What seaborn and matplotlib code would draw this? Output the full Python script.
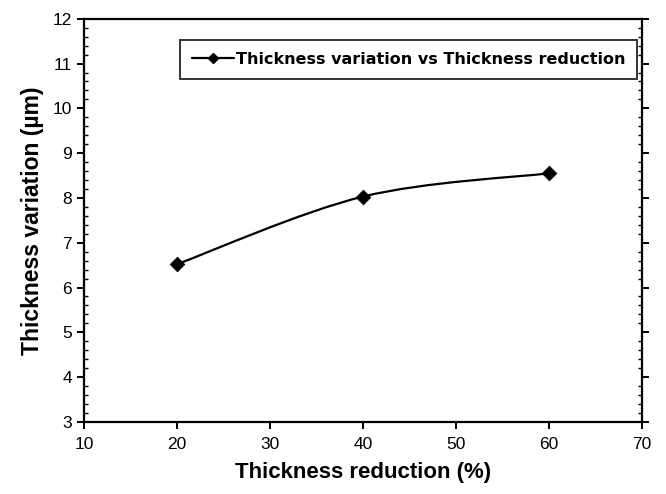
import numpy as np
import seaborn as sns
import matplotlib.pyplot as plt
from matplotlib.path import Path
from matplotlib.patches import PathPatch
from matplotlib.lines import Line2D
from matplotlib.ticker import MultipleLocator

# data
reduction = [20, 40, 60]          # thickness reduction (%)
variation = [6.52, 8.03, 8.55]    # thickness variation (um)
series_label = "Thickness variation vs Thickness reduction"

sns.set_style("white", {"text.color": "black", "axes.labelcolor": "black",
                        "xtick.color": "black", "ytick.color": "black"})
plt.rcParams['font.family'] = ['Liberation Sans', 'DejaVu Sans']

fig = plt.figure(figsize=(6.66, 4.94), dpi=100)
ax = fig.add_axes([0.126, 0.146, 0.838, 0.816])


# Excel-like smoothed line: cubic Bezier segments through the points
def smooth_path(xs, ys, t=1 / 6):
    xs = np.asarray(xs, float)
    ys = np.asarray(ys, float)
    n = len(xs)
    verts = [(xs[0], ys[0])]
    codes = [Path.MOVETO]
    for i in range(n - 1):
        x0, y0 = (xs[i - 1], ys[i - 1]) if i > 0 else (xs[i], ys[i])
        x3, y3 = (xs[i + 2], ys[i + 2]) if i + 2 < n else (xs[i + 1], ys[i + 1])
        c1 = (xs[i] + (xs[i + 1] - x0) * t, ys[i] + (ys[i + 1] - y0) * t)
        c2 = (xs[i + 1] - (x3 - xs[i]) * t, ys[i + 1] - (y3 - ys[i]) * t)
        verts += [c1, c2, (xs[i + 1], ys[i + 1])]
        codes += [Path.CURVE4] * 3
    return Path(verts, codes)


ax.add_patch(PathPatch(smooth_path(reduction, variation), facecolor='none',
                       edgecolor='black', lw=1.6, zorder=2))
sns.scatterplot(x=reduction, y=variation, marker='D', s=55, color='black',
                edgecolor='black', ax=ax, zorder=3, legend=False)

ax.set_xlim(10, 70)
ax.set_ylim(3, 12)
ax.xaxis.set_major_locator(MultipleLocator(10))
ax.yaxis.set_major_locator(MultipleLocator(1))
ax.yaxis.set_minor_locator(MultipleLocator(0.2))

for s in ax.spines.values():
    s.set_linewidth(1.6)
    s.set_color('black')

ax.tick_params(axis='x', which='major', direction='out', length=5, width=1.4,
               labelsize=12.5, pad=6, bottom=True)
ax.tick_params(axis='y', which='major', direction='out', length=5, width=1.4,
               labelsize=12.5, left=True, right=True)
ax.tick_params(axis='y', which='minor', direction='in', length=3, width=1,
               left=True, right=True)

ax.set_xlabel("Thickness reduction (%)", fontsize=16, fontweight='bold', labelpad=7)
ax.set_ylabel("Thickness variation (\u00b5m)", fontsize=16.5, fontweight='bold', labelpad=6)

handle = Line2D([], [], color='black', lw=1.6, marker='D', markersize=5.5)
leg = ax.legend([handle], [series_label], loc='upper right',
                bbox_to_anchor=(0.991, 0.948), borderaxespad=0,
                frameon=True, fancybox=False, edgecolor='black',
                prop={'family': 'DejaVu Sans', 'size': 11.5, 'weight': 'bold'},
                handlelength=2.6, handletextpad=0.1, borderpad=0.75)
leg.get_frame().set_linewidth(1.4)

fig.savefig("out.png", dpi=100)
